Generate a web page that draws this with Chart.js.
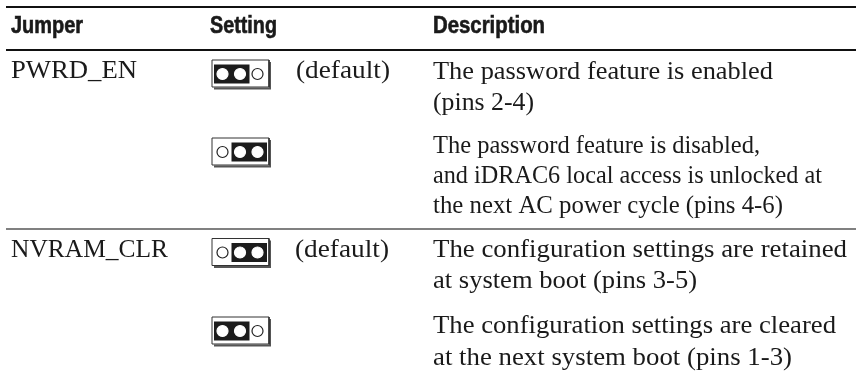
<!DOCTYPE html>
<html>
<head>
<meta charset="utf-8">
<style>
  html, body { margin: 0; padding: 0; background: #fff; }
  canvas { display: block; }
</style>
<script src="https://cdn.jsdelivr.net/npm/chart.js@4"></script>
</head>
<body>
<canvas id="myChart" width="856" height="383"></canvas>
<script>
// table content
const headers = ['Jumper', 'Setting', 'Description'];
const jumpers = ['PWRD_EN', '', 'NVRAM_CLR', ''];
const settingNotes = ['(default)', '', '(default)', ''];
const jumperedPins = [[1, 2], [2, 3], [2, 3], [1, 2]];
const descriptions = [
    ['The password feature is enabled', '(pins 2-4)'],
    ['The password feature is disabled,', 'and iDRAC6 local access is unlocked at', 'the next AC power cycle (pins 4-6)'],
    ['The configuration settings are retained', 'at system boot (pins 3-5)'],
    ['The configuration settings are cleared', 'at the next system boot (pins 1-3)']
];

// layout, in canvas pixels
const headerX = [11, 210, 433];
const headerWidths = [72, 67, 112];
const jumperWidths = [126, 0, 157, 0];
const noteX = [296, 0, 295, 0];
const descWidths = [[340, 101], [327, 389, 350], [414, 264], [403, 359]];
const descBaselines = [[79, 110], [153, 183, 213], [257, 288], [333, 365]];
const jumperBaselines = [78, 0, 257, 0];
const pinRows = [74, 152, 252.5, 331];
const boxLeft = 212;
const pinSpacing = 17.5;
const pinStart = 222.5;

const line = (x1, y1, x2, y2, color, width) => ({
    type: 'line',
    data: [{ x: x1, y: y1 }, { x: x2, y: y2 }],
    borderColor: color,
    borderWidth: width,
    borderCapStyle: 'butt',
    pointRadius: 0,
});

const datasets = [];
datasets.push(line(6, 7, 856, 7, '#111', 2));
datasets.push(line(6, 50, 856, 50, '#111', 2));
datasets.push(line(6, 229, 856, 229, '#808080', 2));

jumperedPins.forEach((pins, i) => {
    const cy = pinRows[i];
    const pinX = p => pinStart + (p - 1) * pinSpacing;
    // drop shadow, then the box outline
    datasets.push(line(boxLeft + 58, cy - 12, boxLeft + 58, cy + 15, '#555', 2));
    datasets.push(line(boxLeft + 2, cy + 14.5, boxLeft + 59, cy + 14.5, '#555', 2));
    datasets.push({
        type: 'line',
        data: [
            { x: boxLeft, y: cy - 14 }, { x: boxLeft + 57, y: cy - 14 },
            { x: boxLeft + 57, y: cy + 13 }, { x: boxLeft, y: cy + 13 }, { x: boxLeft, y: cy - 14 }
        ],
        borderColor: '#333',
        borderWidth: 1,
        pointRadius: 0,
    });
    // shunt
    datasets.push(line(pinX(pins[0]) - 8.5, cy, pinX(pins[1]) + 9.5, cy, '#1c1c1c', 19));
    // pins
    datasets.push({
        type: 'scatter',
        data: [1, 2, 3].map(p => ({ x: pinX(p), y: cy })),
        pointRadius: 5.5,
        pointBackgroundColor: '#fff',
        pointBorderColor: [1, 2, 3].map(p => pins.includes(p) ? '#fff' : '#222'),
        pointBorderWidth: 1.2,
    });
});

// chart.js paints the first dataset on top, we want them in push order
datasets.reverse();

const tableText = {
    id: 'tableText',
    afterDraw(chart) {
        const { ctx, scales: { x, y } } = chart;
        const fitText = (text, px, py, width, heavy) => {
            ctx.save();
            ctx.translate(x.getPixelForValue(px), y.getPixelForValue(py));
            ctx.scale(width / ctx.measureText(text).width, 1);
            ctx.fillText(text, 0, 0);
            if (heavy) ctx.strokeText(text, 0, 0);
            ctx.restore();
        };
        ctx.save();
        ctx.fillStyle = '#1a1a1a';
        ctx.strokeStyle = '#1a1a1a';
        ctx.lineWidth = 0.6;
        ctx.textBaseline = 'alphabetic';
        ctx.font = 'bold 23px "Liberation Sans"';
        headers.forEach((text, i) => fitText(text, headerX[i], 33, headerWidths[i], true));
        ctx.font = '25px "Liberation Serif"';
        jumpers.forEach((name, i) => {
            if (name) fitText(name, 11, jumperBaselines[i], jumperWidths[i]);
            if (settingNotes[i]) fitText(settingNotes[i], noteX[i], jumperBaselines[i], 94);
        });
        descriptions.forEach((lines, i) => {
            lines.forEach((text, j) => fitText(text, 433, descBaselines[i][j], descWidths[i][j]));
        });
        ctx.restore();
    }
};

new Chart(document.getElementById('myChart'), {
    type: 'scatter',
    data: { datasets },
    options: {
        responsive: false,
        animation: false,
        layout: { padding: 0, autoPadding: false },
        plugins: { legend: { display: false }, tooltip: { enabled: false } },
        scales: {
            x: { type: 'linear', min: 0, max: 856, display: false },
            y: { type: 'linear', min: 0, max: 383, reverse: true, display: false }
        }
    },
    plugins: [tableText]
});
</script>
</body>
</html>
